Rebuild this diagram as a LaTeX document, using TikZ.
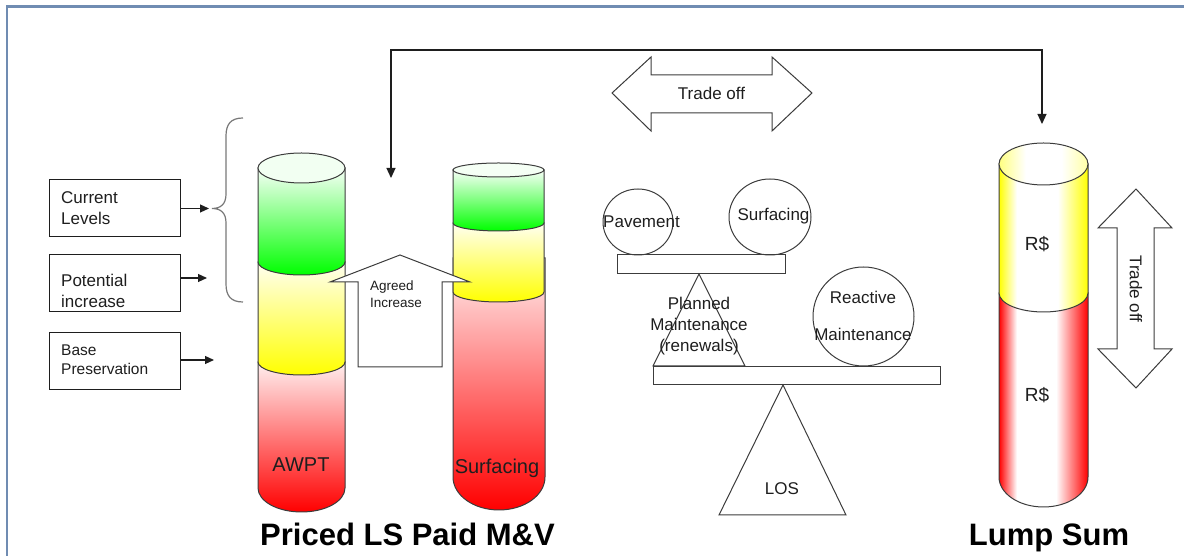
\documentclass[tikz,border=0pt]{standalone}
\usepackage{fontspec}
\setmainfont{Liberation Sans}
\usetikzlibrary{arrows.meta}
\definecolor{frameblue}{RGB}{112,140,178}
\definecolor{edge}{RGB}{60,60,60}
\definecolor{ink}{RGB}{30,30,30}
\definecolor{bracegray}{RGB}{120,120,120}
% glossy horizontal shadings: coloured rims, wide white middle
\pgfdeclarehorizontalshading{rimyellow}{100bp}{color(0bp)=(yellow); color(25bp)=(yellow);
  color(35bp)=(white); color(58bp)=(white); color(75bp)=(yellow); color(100bp)=(yellow)}
\pgfdeclarehorizontalshading{rimred}{100bp}{color(0bp)=(red); color(25bp)=(red);
  color(35bp)=(white); color(57bp)=(white); color(75bp)=(red); color(100bp)=(red)}
\pgfdeclarehorizontalshading{rimpale}{100bp}{color(0bp)=(yellow!50); color(25bp)=(yellow!50);
  color(40bp)=(white); color(60bp)=(white); color(75bp)=(yellow!35); color(100bp)=(yellow!35)}
\begin{document}
\begin{tikzpicture}[x=1pt,y=1pt,
  box/.style={draw=ink, line width=1pt, minimum width=131pt, minimum height=57pt, inner sep=0pt},
  lbl/.style={text=ink, font=\fontsize{17}{21}\selectfont, inner sep=0pt},
  small/.style={text=ink, font=\fontsize{13.5}{17}\selectfont, inner sep=0pt, align=left},
  big/.style={text=ink, font=\fontsize{20}{24}\selectfont, inner sep=0pt},
  title/.style={text=black, font=\fontsize{31}{36}\selectfont\bfseries, inner sep=0pt, anchor=base},
  outline/.style={draw=edge, line width=1pt},
  shapeline/.style={draw=edge, line width=1pt},
  blockarrow/.style={draw=edge, line width=1pt, fill=white, line join=miter},
  tip/.style={-{Triangle[length=9pt,width=8pt]}},
  bigtip/.style={{Triangle[length=10pt,width=9pt]}-{Triangle[length=10pt,width=9pt]}},
]
\useasboundingbox (0,0) rectangle (1184,556);

% frame
\draw[frameblue, line width=2.5pt] (7,0) -- (7,549.5) -- (1184,549.5);

% input boxes on the left
\node[box] (cl) at (114.5,347.5) {};
\node[lbl, anchor=west, align=left] (cltext) at (61,347.5) {Current\\Levels};
\node[box] (pi) at (114.5,273) {};
\node[lbl, anchor=west, align=left] (pitext) at (61,265) {Potential\\increase};
\node[box] (bp) at (114.5,195) {};
\node[lbl, anchor=west, align=left, font=\fontsize{15.5}{19}\selectfont] (bptext) at (61,196.5) {Base\\Preservation};

% brace grouping the upper two levels
\coordinate (bracetip) at (212,347.5);
\draw[bracegray, line width=1.2pt] (243,438) .. controls (231,438) and (226,432) .. (226,420)
  -- (226,362) .. controls (226,352) and (221,347.5) .. (bracetip)
  .. controls (221,347.5) and (226,343) .. (226,333)
  -- (226,272) .. controls (226,260) and (231,254) .. (243,254);

\coordinate (cltip) at (209,347.5);
\coordinate (pitip) at (207,278);
\coordinate (bptip) at (214,196);
\draw[tip, line width=1.2pt, ink] (cl.east) -- (cltip);
\draw[tip, line width=1.2pt, ink] (pi.east |- pitip) -- (pitip);
\draw[tip, line width=1.2pt, ink] (bp.east |- bptip) -- (bptip);

% cylinder AWPT
\shadedraw[outline, top color=red!6, bottom color=red] (258,194) -- (258,68)
  arc[start angle=180, end angle=360, x radius=43.5, y radius=24] -- (345,194) -- cycle;
\shadedraw[outline, top color=yellow!5, bottom color=yellow] (258,294) -- (258,194)
  arc[start angle=180, end angle=360, x radius=43.5, y radius=13] -- (345,294) -- cycle;
\shadedraw[outline, top color=green!3, bottom color=green] (258,388) -- (258,294)
  arc[start angle=180, end angle=360, x radius=43.5, y radius=13] -- (345,388) -- cycle;
\filldraw[outline, fill=green!5] (301.5,388) ellipse[x radius=43.5, y radius=15];
\node[big] (awpt) at (301,91) {AWPT};

% cylinder Surfacing
\shadedraw[outline, top color=red!6, bottom color=red] (453,298) -- (453,79)
  arc[start angle=180, end angle=360, x radius=46, y radius=33] -- (545,298) -- cycle;
\shadedraw[outline, top color=yellow!5, bottom color=yellow] (453,333) -- (453,264)
  arc[start angle=180, end angle=360, x radius=45.5, y radius=10] -- (544,333) -- cycle;
\shadedraw[outline, top color=green!3, bottom color=green] (453,386) -- (453,333)
  arc[start angle=180, end angle=360, x radius=45.5, y radius=8] -- (544,386) -- cycle;
\filldraw[outline, fill=green!4] (498.5,386) ellipse[x radius=45.5, y radius=7];
\node[big] (surf) at (497,88) {Surfacing};

% agreed increase block arrow
\path[blockarrow] (400,301) -- (470,274) -- (442,274) -- (442,189) -- (358,189)
  -- (358,274) -- (330,274) -- cycle;
\node[small, anchor=west] (agreed) at (370,262) {Agreed\\Increase};

% cylinder Lump Sum
\shadedraw[outline, shading=rimred] (999,263) -- (999,79)
  arc[start angle=180, end angle=360, x radius=44.5, y radius=30] -- (1088,263) -- cycle;
\shadedraw[outline, shading=rimyellow] (999,392) -- (999,263)
  arc[start angle=180, end angle=360, x radius=44.5, y radius=19] -- (1088,392) -- cycle;
\shadedraw[outline, shading=rimpale]
  (1043.5,392) ellipse[x radius=44.5, y radius=21];
\node[big, font=\fontsize{19}{23}\selectfont] (rs1) at (1037,312) {R\$};
\node[big, font=\fontsize{19}{23}\selectfont] (rs2) at (1037,161) {R\$};

% vertical trade off arrow
\path[blockarrow] (1136,367) -- (1172,328) -- (1154,328) -- (1154,207) -- (1172,207)
  -- (1136,168) -- (1098,207) -- (1117,207) -- (1117,328) -- (1098,328) -- cycle;
\node[lbl, rotate=-90] (tov) at (1136,267) {Trade off};

% horizontal trade off arrow
\path[blockarrow] (612,463) -- (651,499) -- (651,481) -- (772,481) -- (772,499)
  -- (812,463) -- (772,425) -- (772,443) -- (651,443) -- (651,425) -- cycle;
\node[lbl] (toh) at (711.5,463) {Trade off};

% link between the priced columns and the lump sum
\coordinate (dropL) at (391,378);
\coordinate (dropR) at (1042,432);
\coordinate (topy) at (0,506);
\draw[bigtip, line width=1.2pt, ink] (dropL) |- (dropR |- topy) -- (dropR);

% balance: upper beam
\draw[shapeline] (617,282) rectangle (785,301);
\draw[shapeline] (638,334) ellipse[x radius=35, y radius=33];
\draw[shapeline] (770,339) ellipse[x radius=41, y radius=38];
\node[lbl] (pav) at (641.5,334) {Pavement};
\node[lbl] (surfb) at (773.5,340) {Surfacing};
\draw[shapeline] (699,282) -- (745,190) -- (653,190) -- cycle;
\node[lbl, align=center] (planned) at (699,230) {Planned\\Maintenance\\(renewals)};

% balance: lower beam
\draw[shapeline] (653,171) rectangle (940,189);
\draw[shapeline] (863.5,239.5) ellipse[x radius=50.5, y radius=49.5];
\node[lbl] (react) at (863,259) {Reactive};
\node[lbl] (maint) at (863,222) {Maintenance};
\draw[shapeline] (783,171) -- (846,41) -- (719,41) -- cycle;
\node[lbl] (los) at (782,67) {LOS};

% titles
\node[title] (priced) at (407.5,10) {Priced LS Paid M\&V};
\node[title] (lump) at (1049,10) {Lump Sum};
\end{tikzpicture}
\end{document}
